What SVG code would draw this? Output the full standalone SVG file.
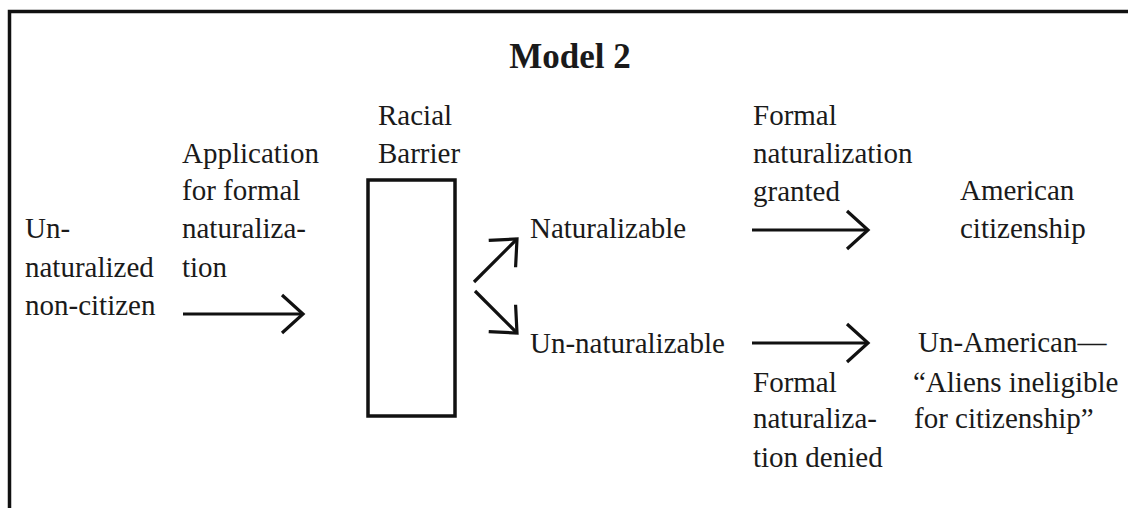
<svg xmlns="http://www.w3.org/2000/svg" width="1128" height="508" viewBox="0 0 1128 508">
  <defs>
    <style>
      .t { font-family: "Liberation Serif", "Times New Roman", serif; font-size: 29px; fill: #1a1a1a; }
      .title { font-family: "Liberation Serif", "Times New Roman", serif; font-size: 35px; font-weight: bold; fill: #1a1a1a; }
      .ln { stroke: #111; stroke-width: 3.2; fill: none; }
    </style>
    <marker id="chev" markerUnits="userSpaceOnUse" markerWidth="50" markerHeight="50" viewBox="-30 -25 35 50" refX="0" refY="0" orient="auto" overflow="visible">
      <path d="M -21 -19 L 0 0 L -21 19" stroke="#111" stroke-width="3.2" fill="none"/>
    </marker>
  </defs>
  <rect width="1128" height="508" fill="#fff"/>
  <path id="frame" d="M 9.5 508 V 11.5 H 1128" stroke="#111" stroke-width="3.5" fill="none"/>
  <text id="title" class="title" x="570" y="68" text-anchor="middle">Model 2</text>

  <g id="noncitizen">
    <text class="t" x="25" y="238">Un-</text>
    <text class="t" x="25" y="277">naturalized</text>
    <text class="t" x="25" y="315">non-citizen</text>
  </g>
  <g id="application">
    <text class="t" x="182" y="163">Application</text>
    <text class="t" x="182" y="200">for formal</text>
    <text class="t" x="182" y="238">naturaliza-</text>
    <text class="t" x="182" y="277">tion</text>
  </g>
  <g id="barrier">
    <text class="t" x="378" y="125">Racial</text>
    <text class="t" x="378" y="163">Barrier</text>
    <rect x="368" y="180" width="87" height="236" stroke="#111" stroke-width="3.5" fill="none"/>
  </g>
  <g id="naturalizable">
    <text class="t" x="530" y="238">Naturalizable</text>
  </g>
  <g id="unnaturalizable">
    <text class="t" x="530" y="353">Un-naturalizable</text>
  </g>
  <g id="granted">
    <text class="t" x="753" y="125">Formal</text>
    <text class="t" x="753" y="163">naturalization</text>
    <text class="t" x="753" y="201">granted</text>
  </g>
  <g id="american">
    <text class="t" x="960" y="200">American</text>
    <text class="t" x="960" y="238">citizenship</text>
  </g>
  <g id="denied">
    <text class="t" x="753" y="392">Formal</text>
    <text class="t" x="753" y="428">naturaliza-</text>
    <text class="t" x="753" y="467">tion denied</text>
  </g>
  <g id="unamerican">
    <text class="t" x="918" y="352">Un-American—</text>
    <text class="t" x="913" y="392">“Aliens ineligible</text>
    <text class="t" x="914" y="428">for citizenship”</text>
  </g>

  <g id="connectors">
    <line class="ln" x1="183" y1="314" x2="303" y2="314" marker-end="url(#chev)"/>
    <line class="ln" x1="474" y1="282" x2="517" y2="239" marker-end="url(#chev)"/>
    <line class="ln" x1="475" y1="291" x2="517" y2="333" marker-end="url(#chev)"/>
    <line class="ln" x1="752" y1="230" x2="868" y2="230" marker-end="url(#chev)"/>
    <line class="ln" x1="752" y1="343" x2="868" y2="343" marker-end="url(#chev)"/>
  </g>
</svg>
